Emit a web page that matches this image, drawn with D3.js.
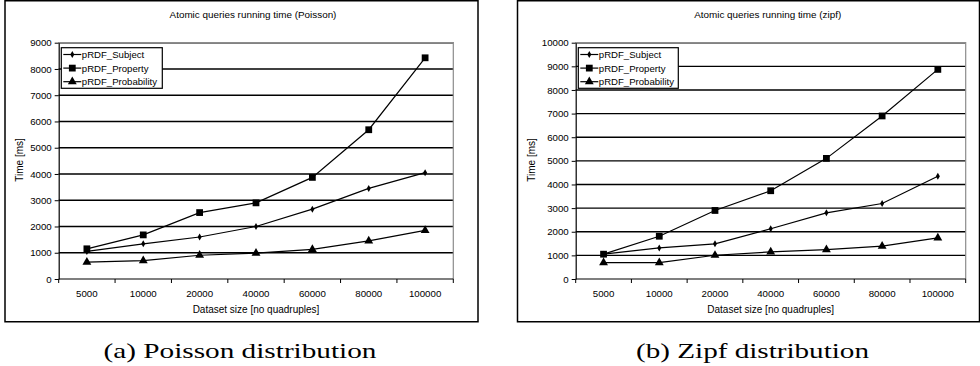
<!DOCTYPE html>
<html>
<head>
<meta charset="utf-8">
<script src="https://cdn.jsdelivr.net/npm/d3@7"></script>
<style>
  body { margin: 0; background: #fff; }
  svg { display: block; }
  text { font-family: "Liberation Sans", Arial, sans-serif; fill: #000; }
  text.caption { font-family: "Liberation Serif", "Times New Roman", serif; }
</style>
</head>
<body>
<svg id="chart" width="980" height="366"></svg>
<script>
// data
var sizes = ["5000", "10000", "20000", "40000", "60000", "80000", "100000"];
var seriesNames = ["pRDF_Subject", "pRDF_Property", "pRDF_Probability"];
var markers = ["diamond", "square", "triangle"];

var poissonSubject = [1050, 1340, 1600, 2000, 2660, 3450, 4050];
var poissonProperty = [1150, 1680, 2530, 2900, 3870, 5685, 8425];
var poissonProbability = [640, 700, 905, 985, 1130, 1450, 1850];

var zipfSubject = [1050, 1315, 1490, 2125, 2800, 3195, 4345];
var zipfProperty = [1050, 1810, 2900, 3735, 5105, 6900, 8870];
var zipfProbability = [695, 695, 1005, 1145, 1245, 1390, 1740];

var poissonTicks = [0, 1000, 2000, 3000, 4000, 5000, 6000, 7000, 8000, 9000];
var zipfTicks = [0, 1000, 2000, 3000, 4000, 5000, 6000, 7000, 8000, 9000, 10000];

var svg = d3.select('#chart');

function drawPanel(opt) {
    var g = svg.append('g');

    // outer frame
    g.append('rect')
        .attr('x', opt.box[0]).attr('y', opt.box[1])
        .attr('width', opt.box[2]).attr('height', opt.box[3])
        .attr('fill', 'none').attr('stroke', '#000').attr('stroke-width', 1.5);

    var left = opt.plot[0], top = opt.plot[1], right = opt.plot[2], bottom = opt.plot[3];

    var x = d3.scaleBand().domain(sizes).range([left, right]);
    var y = d3.scaleLinear().domain([0, d3.max(opt.ticks)]).range([bottom, top]);

    // gridlines
    g.selectAll('.grid').data(opt.ticks.slice(1)).enter().append('line')
        .attr('x1', left).attr('x2', right)
        .attr('y1', d => y(d)).attr('y2', d => y(d))
        .attr('stroke', '#000').attr('stroke-width', 1.4);

    // plot frame top/right in gray
    g.append('path')
        .attr('d', `M${left},${top}H${right}V${bottom}`)
        .attr('fill', 'none').attr('stroke', '#8c8c8c').attr('stroke-width', 1.2);

    // y axis
    var yAxis = d3.axisLeft(y).tickValues(opt.ticks).tickFormat(d3.format('d'))
        .tickSize(4).tickPadding(3).tickSizeOuter(0);
    var ya = g.append('g').attr('transform', `translate(${left},0)`).call(yAxis);
    ya.select('.domain').attr('stroke', '#000').attr('stroke-width', 1.2);
    ya.selectAll('.tick line').attr('stroke', '#000');
    ya.selectAll('text').attr('font-size', 9.7).attr('font-family', '"Liberation Sans", Arial, sans-serif');

    // x axis, ticks at band edges
    var xa = g.append('g').attr('transform', `translate(0,${bottom})`);
    xa.append('line').attr('x1', left).attr('x2', right).attr('stroke', '#000').attr('stroke-width', 1.2);
    var edges = sizes.map(d => x(d)).concat([right]);
    xa.selectAll('.xt').data(edges).enter().append('line')
        .attr('x1', d => d).attr('x2', d => d).attr('y1', 0).attr('y2', 4)
        .attr('stroke', '#000');
    xa.selectAll('.xl').data(sizes).enter().append('text')
        .attr('x', d => x(d) + x.bandwidth() / 2).attr('y', 17.8)
        .attr('text-anchor', 'middle').attr('font-size', 9.7)
        .text(d => d);

    // series
    var line = d3.line().x((d, i) => x(sizes[i]) + x.bandwidth() / 2).y(d => y(d));
    var symbols = {
        diamond: d3.symbol().type(d3.symbolDiamond).size(14),
        square: d3.symbol().type(d3.symbolSquare).size(46),
        triangle: d3.symbol().type(d3.symbolTriangle).size(34)
    };
    opt.series.forEach(function (vals, k) {
        g.append('path').attr('d', line(vals))
            .attr('fill', 'none').attr('stroke', '#000').attr('stroke-width', 1.2);
        g.selectAll('.m' + k).data(vals).enter().append('path')
            .attr('transform', (d, i) => `translate(${x(sizes[i]) + x.bandwidth() / 2},${y(d)})`)
            .attr('d', symbols[markers[k]]())
            .attr('fill', '#000');
    });

    // legend
    var lg = g.append('g').attr('transform', `translate(${left + 2.6},${top + 5})`);
    lg.append('rect').attr('width', opt.legendW).attr('height', 40.6)
        .attr('fill', '#fff').attr('stroke', '#000').attr('stroke-width', 1.2);
    seriesNames.forEach(function (name, k) {
        var yy = 6.8 + k * 13.6;
        lg.append('line').attr('x1', 2).attr('x2', 20).attr('y1', yy).attr('y2', yy)
            .attr('stroke', '#000').attr('stroke-width', 1.2);
        lg.append('path').attr('transform', `translate(11,${yy})`)
            .attr('d', symbols[markers[k]]()).attr('fill', '#000');
        lg.append('text').attr('x', 20.5).attr('y', yy + 3.5).attr('font-size', 9.6).text(name);
    });

    // titles
    g.append('text').attr('x', (left + right) / 2 - 3).attr('y', 18.3)
        .attr('text-anchor', 'middle').attr('font-size', 9.9).text(opt.title);
    g.append('text').attr('x', (left + right) / 2).attr('y', 313.3)
        .attr('text-anchor', 'middle').attr('font-size', 10).text('Dataset size [no quadruples]');
    g.append('text').attr('transform', `translate(${opt.yTitleX},160) rotate(-90)`)
        .attr('text-anchor', 'middle').attr('font-size', 10).text('Time [ms]');

    // sub-figure caption, stretched to the width of the original's serif face
    svg.append('text').attr('class', 'caption').attr('x', opt.captionX).attr('y', 358)
        .attr('text-anchor', 'middle').attr('font-size', 22)
        .attr('textLength', opt.captionW).attr('lengthAdjust', 'spacingAndGlyphs')
        .text(opt.caption);
}

drawPanel({
    box: [5, 0.75, 473, 321],
    plot: [58.7, 42.7, 453.3, 279],
    ticks: poissonTicks,
    series: [poissonSubject, poissonProperty, poissonProbability],
    legendW: 101,
    title: 'Atomic queries running time (Poisson)',
    yTitleX: 22.5,
    caption: '(a) Poisson distribution',
    captionX: 240,
    captionW: 273
});

drawPanel({
    box: [517.5, 0.75, 462, 321],
    plot: [575.7, 42.7, 965.7, 279],
    ticks: zipfTicks,
    series: [zipfSubject, zipfProperty, zipfProbability],
    legendW: 100,
    title: 'Atomic queries running time (zipf)',
    yTitleX: 534.5,
    caption: '(b) Zipf distribution',
    captionX: 752.5,
    captionW: 233
});
</script>
</body>
</html>
